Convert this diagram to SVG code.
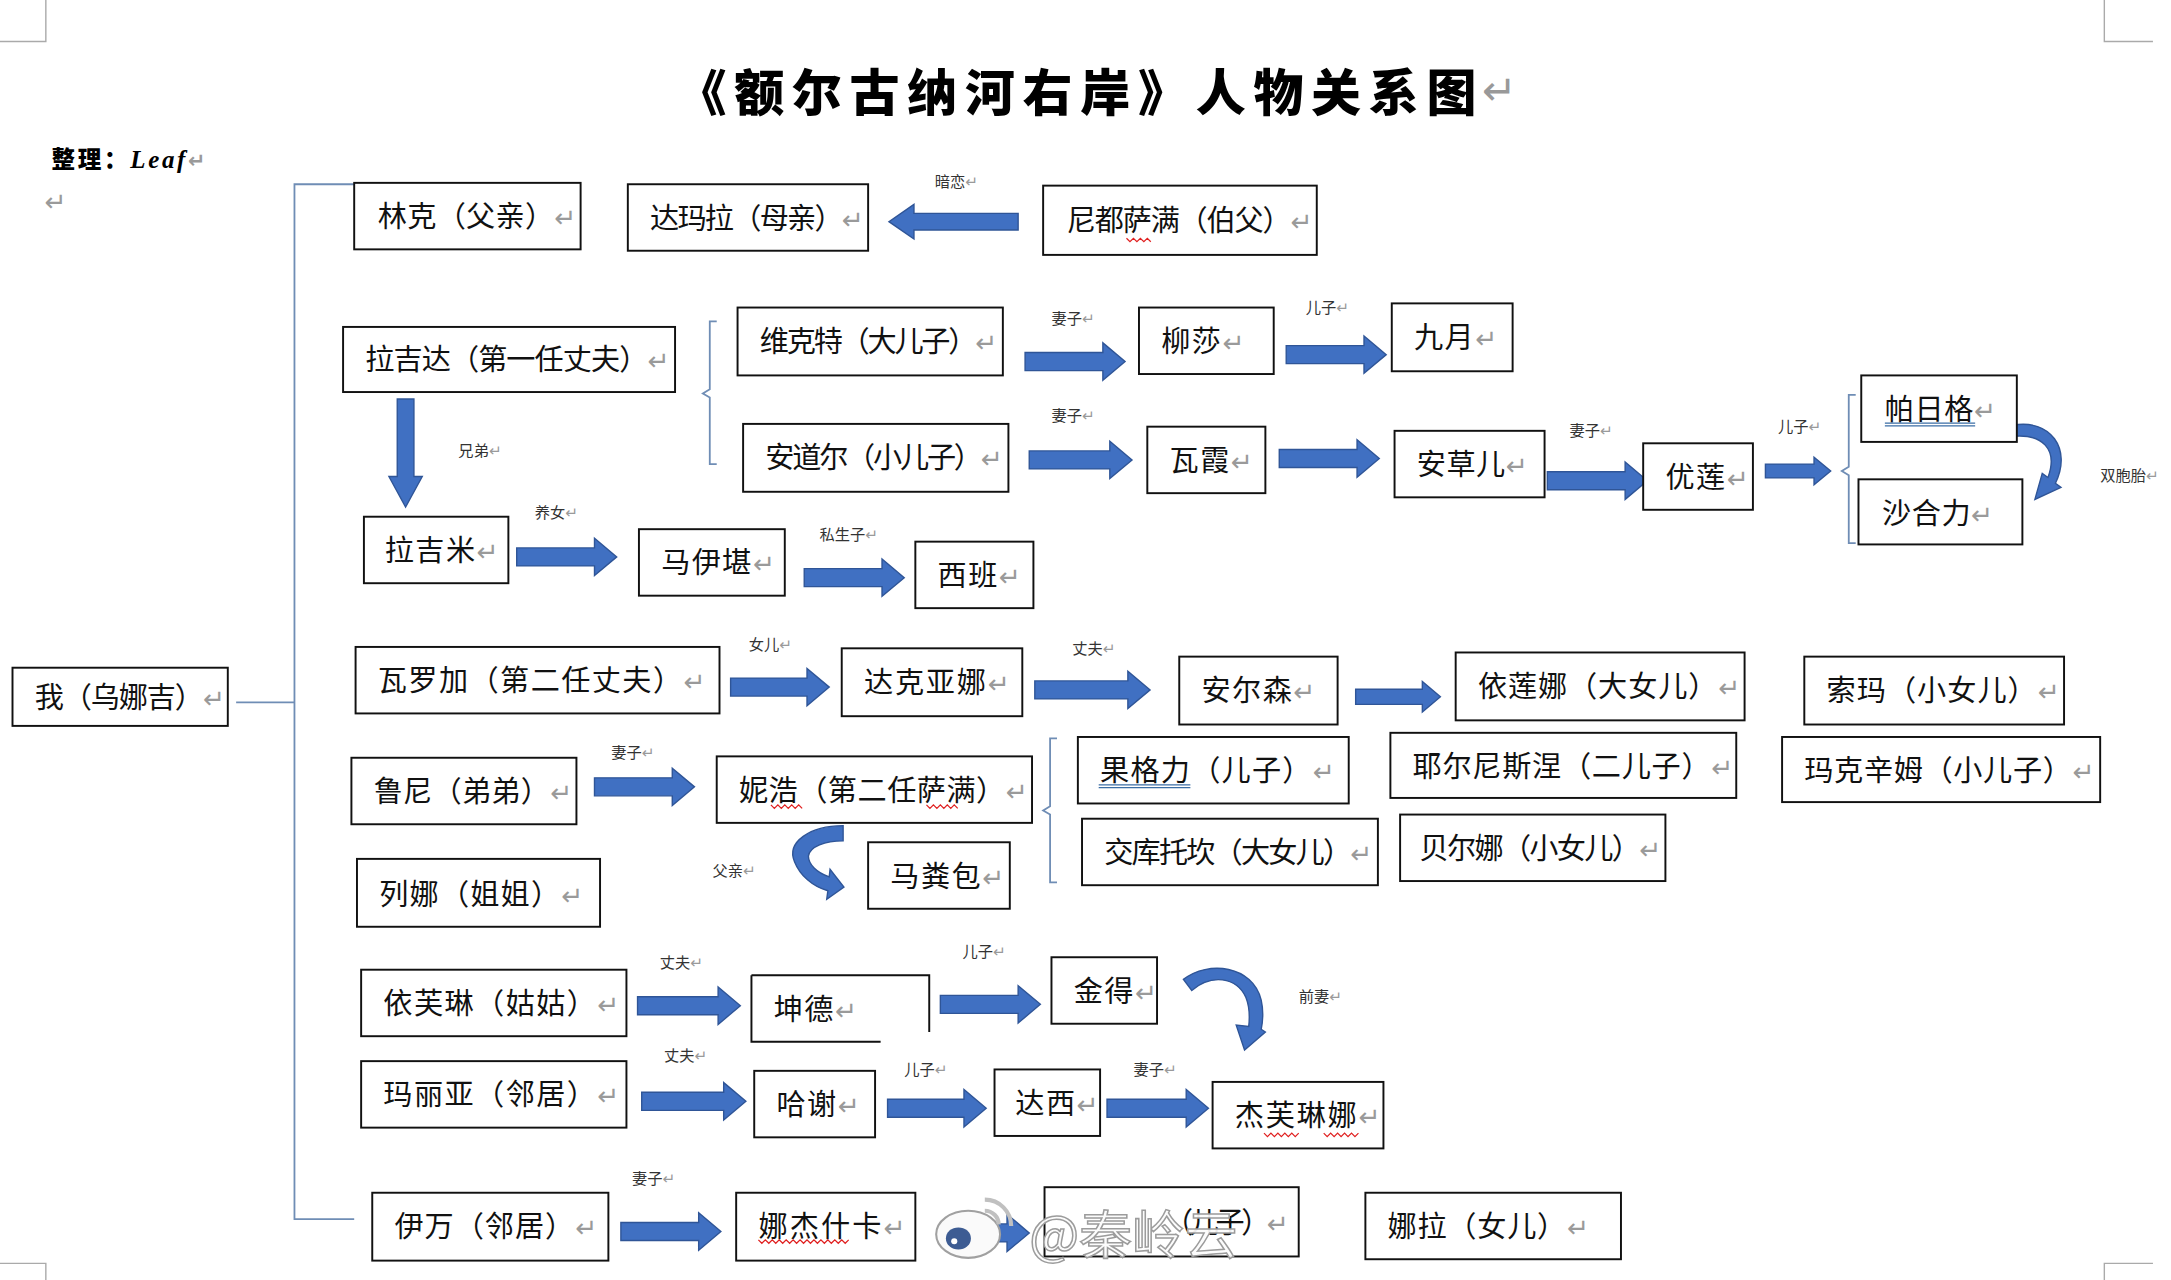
<svg xmlns="http://www.w3.org/2000/svg" width="2171" height="1280" viewBox="0 0 2171 1280">
<style>
.b{fill:#fff;stroke:#111;stroke-width:1.4}
.t{font-family:"Noto Sans CJK SC","Noto Sans CJK JP",sans-serif;font-size:21px;fill:#111}
.r{font-family:"DejaVu Sans",sans-serif;font-size:19px;fill:#9a9a9a}
.l{font-family:"Noto Sans CJK SC","Noto Sans CJK JP",sans-serif;font-size:11px;fill:#333}
.l .r{font-size:11px}
.a{fill:#4070c2;stroke:#2f5597;stroke-width:1}
.tr{fill:none;stroke:#6f8db5;stroke-width:1.3}
.sq{fill:none;stroke:#e02020;stroke-width:0.9}
.ul{fill:none;stroke:#3b6ea5;stroke-width:0.9}
.cm{fill:none;stroke:#aaa;stroke-width:1}
</style>
<rect width="2171" height="1280" fill="#fff"/>
<g transform="scale(1.389 1.3853)">
<g id="corners">
<path class="cm" d="M0,30 H33 V0 M1515,0 V30 H1550 M0,912 H33 V924 M1515,924 V912 H1550"/>
</g>
<g id="title">
<text x="487" y="80" textLength="576" lengthAdjust="spacing" style="font-family:'Noto Sans CJK SC','Noto Sans CJK JP',sans-serif;font-size:36px;font-weight:900;fill:#000">《额尔古纳河右岸》人物关系图</text>
<text x="1067" y="76" style="font-family:'DejaVu Sans',sans-serif;font-size:30px;fill:#999">↵</text>
<text x="37" y="121" textLength="111" lengthAdjust="spacing" style="font-family:'Noto Sans CJK SC',sans-serif;font-size:17px;font-weight:900;fill:#000">整理：<tspan style="font-family:'Liberation Serif',serif;font-style:italic;font-weight:bold;font-size:18px">Leaf</tspan><tspan class="r" style="font-size:15px">↵</tspan></text>
<text x="32" y="152" class="r">↵</text>
</g>
<g id="connectors">
<path class="tr" d="M255,133 H212 V880 H255 M170,507 H212"/>
<path class="tr" d="M516,232 H511 V281 L506,284 L511,287 V335 H516"/>
<path class="tr" d="M1336,285 H1331 V337 L1326,340 L1331,343 V392 H1336"/>
<path class="tr" d="M761,533 H756 V582 L751,585 L756,588 V637 H761"/>
<path class="a" d="M733,154 H658 V147.5 L640,160 L658,172.5 V166 H733 Z"/>
<path class="a" d="M738,254.5 H794 V247.5 L810,261 L794,274.5 V267.5 H738 Z"/>
<path class="a" d="M926,249.5 H982 V242.5 L998,256 L982,269.5 V262.5 H926 Z"/>
<path class="a" d="M741,325.5 H799 V318.5 L815,332 L799,345.5 V338.5 H741 Z"/>
<path class="a" d="M921,324.5 H977 V317.5 L993,331 L977,344.5 V337.5 H921 Z"/>
<path class="a" d="M1114,340.5 H1170 V333.5 L1186,347 L1170,360.5 V353.5 H1114 Z"/>
<path class="a" d="M1271,335 H1306 V330 L1318,340 L1306,350 V345 H1271 Z"/>
<path class="a" d="M286,288 V344 H280 L292,366 L304,344 H298 V288 Z"/>
<path class="a" d="M372,395.5 H428 V388.5 L444,402 L428,415.5 V408.5 H372 Z"/>
<path class="a" d="M579,410.5 H635 V403.5 L651,417 L635,430.5 V423.5 H579 Z"/>
<path class="a" d="M526,489.5 H581 V482.5 L597,496 L581,509.5 V502.5 H526 Z"/>
<path class="a" d="M745,491.5 H812 V484.5 L828,498 L812,511.5 V504.5 H745 Z"/>
<path class="a" d="M976,497.5 H1024 V492 L1037,503 L1024,514 V508.5 H976 Z"/>
<path class="a" d="M428,561.5 H484 V554.5 L500,568 L484,581.5 V574.5 H428 Z"/>
<path class="a" d="M459,719.5 H517 V712.5 L533,726 L517,739.5 V732.5 H459 Z"/>
<path class="a" d="M677,718.5 H733 V711.5 L749,725 L733,738.5 V731.5 H677 Z"/>
<path class="a" d="M462,788.5 H521 V781.5 L537,795 L521,808.5 V801.5 H462 Z"/>
<path class="a" d="M639,793.5 H694 V786.5 L710,800 L694,813.5 V806.5 H639 Z"/>
<path class="a" d="M797,793.5 H854 V786.5 L870,800 L854,813.5 V806.5 H797 Z"/>
<path class="a" d="M447,882.5 H503 V875.5 L519,889 L503,902.5 V895.5 H447 Z"/>
<path class="a" d="M680,883.5 H725 V876.5 L741,890 L725,903.5 V896.5 H680 Z"/>
<path class="a" d="M1449,307 C1476,302 1492,324 1479.8,348.8 L1483.8,351.8 L1465,360.5 L1470.3,341.7 L1474.4,344.7 C1482,324 1470,313 1449,315 Z"/>
<path class="a" d="M607,596 C583,596 566,608 572,622 C576,632 585,640 596,643 L595.2,649.2 L607.6,640.3 L597.6,627.5 L597,633 C588,630 582,624 582,618 C583,611 594,607 607,607 Z"/>
<path class="a" d="M852,707 C870,693 902,697 908,722 C910,731 909,738 908,743 L911,745 L896,758 L890,740 L899,741 C900,732 899,725 897,720 C890,705 872,703 858,715 Z"/>
</g>
<g id="labels">
<text class="l" x="673" y="135">暗恋<tspan class="r">↵</tspan></text>
<text class="l" x="757" y="234">妻子<tspan class="r">↵</tspan></text>
<text class="l" x="940" y="226">儿子<tspan class="r">↵</tspan></text>
<text class="l" x="757" y="304">妻子<tspan class="r">↵</tspan></text>
<text class="l" x="1130" y="315">妻子<tspan class="r">↵</tspan></text>
<text class="l" x="1280" y="312">儿子<tspan class="r">↵</tspan></text>
<text class="l" x="1512" y="347">双胞胎<tspan class="r">↵</tspan></text>
<text class="l" x="330" y="329">兄弟<tspan class="r">↵</tspan></text>
<text class="l" x="385" y="374">养女<tspan class="r">↵</tspan></text>
<text class="l" x="590" y="390">私生子<tspan class="r">↵</tspan></text>
<text class="l" x="539" y="469">女儿<tspan class="r">↵</tspan></text>
<text class="l" x="772" y="472">丈夫<tspan class="r">↵</tspan></text>
<text class="l" x="440" y="547">妻子<tspan class="r">↵</tspan></text>
<text class="l" x="513" y="632">父亲<tspan class="r">↵</tspan></text>
<text class="l" x="475" y="699">丈夫<tspan class="r">↵</tspan></text>
<text class="l" x="693" y="691">儿子<tspan class="r">↵</tspan></text>
<text class="l" x="935" y="723">前妻<tspan class="r">↵</tspan></text>
<text class="l" x="478" y="766">丈夫<tspan class="r">↵</tspan></text>
<text class="l" x="651" y="776">儿子<tspan class="r">↵</tspan></text>
<text class="l" x="816" y="776">妻子<tspan class="r">↵</tspan></text>
<text class="l" x="455" y="855">妻子<tspan class="r">↵</tspan></text>
</g>
<g id="n-linke"><rect class="b" x="255" y="132" width="163" height="48"/><text class="t" x="272" y="164" textLength="143" lengthAdjust="spacing">林克（父亲）<tspan class="r">↵</tspan></text></g>
<g id="n-damala"><rect class="b" x="452" y="133" width="173" height="48"/><text class="t" x="468" y="165" textLength="154" lengthAdjust="spacing">达玛拉（母亲）<tspan class="r">↵</tspan></text></g>
<g id="n-niduo"><rect class="b" x="751" y="134" width="197" height="50"/><text class="t" x="768" y="167" textLength="177" lengthAdjust="spacing">尼都萨满（伯父）<tspan class="r">↵</tspan></text><path class="sq" d="M811,172 l2.5,2.5 l2.5,-2.5 l2.5,2.5 l2.5,-2.5 l2.5,2.5 l2.5,-2.5 l2.5,2.5"/></g>
<g id="n-lajida"><rect class="b" x="247" y="236" width="239" height="47"/><text class="t" x="263" y="267" textLength="219" lengthAdjust="spacing">拉吉达（第一任丈夫）<tspan class="r">↵</tspan></text></g>
<g id="n-weikete"><rect class="b" x="531" y="222" width="191" height="49"/><text class="t" x="547" y="254" textLength="171" lengthAdjust="spacing">维克特（大儿子）<tspan class="r">↵</tspan></text></g>
<g id="n-andaoer"><rect class="b" x="535" y="306" width="191" height="49"/><text class="t" x="551" y="338" textLength="171" lengthAdjust="spacing">安道尔（小儿子）<tspan class="r">↵</tspan></text></g>
<g id="n-liusha"><rect class="b" x="820" y="222" width="97" height="48"/><text class="t" x="836" y="254" textLength="60" lengthAdjust="spacing">柳莎<tspan class="r">↵</tspan></text></g>
<g id="n-jiuyue"><rect class="b" x="1002" y="219" width="87" height="49"/><text class="t" x="1018" y="251" textLength="60" lengthAdjust="spacing">九月<tspan class="r">↵</tspan></text></g>
<g id="n-waxia"><rect class="b" x="826" y="308" width="85" height="48"/><text class="t" x="842" y="340" textLength="60" lengthAdjust="spacing">瓦霞<tspan class="r">↵</tspan></text></g>
<g id="n-ancaoer"><rect class="b" x="1004" y="311" width="108" height="48"/><text class="t" x="1020" y="343" textLength="80" lengthAdjust="spacing">安草儿<tspan class="r">↵</tspan></text></g>
<g id="n-youlian"><rect class="b" x="1183" y="320" width="79" height="48"/><text class="t" x="1199" y="352" textLength="60" lengthAdjust="spacing">优莲<tspan class="r">↵</tspan></text></g>
<g id="n-parige"><rect class="b" x="1340" y="271" width="112" height="48"/><text class="t" x="1357" y="303" textLength="80" lengthAdjust="spacing">帕日格<tspan class="r">↵</tspan></text><path class="ul" d="M1357,305.5 H1422 M1357,307.5 H1422"/></g>
<g id="n-shaheli"><rect class="b" x="1338" y="346" width="118" height="47"/><text class="t" x="1355" y="378" textLength="80" lengthAdjust="spacing">沙合力<tspan class="r">↵</tspan></text></g>
<g id="n-lajimi"><rect class="b" x="262" y="373" width="104" height="48"/><text class="t" x="277" y="405" textLength="82" lengthAdjust="spacing">拉吉米<tspan class="r">↵</tspan></text></g>
<g id="n-mayikan"><rect class="b" x="460" y="382" width="105" height="48"/><text class="t" x="476" y="414" textLength="82" lengthAdjust="spacing">马伊堪<tspan class="r">↵</tspan></text></g>
<g id="n-xiban"><rect class="b" x="659" y="391" width="85" height="48"/><text class="t" x="675" y="423" textLength="60" lengthAdjust="spacing">西班<tspan class="r">↵</tspan></text></g>
<g id="n-waluojia"><rect class="b" x="256" y="467" width="262" height="48"/><text class="t" x="272" y="499" textLength="236" lengthAdjust="spacing">瓦罗加（第二任丈夫）<tspan class="r">↵</tspan></text></g>
<g id="n-dakeyana"><rect class="b" x="606" y="468" width="130" height="49"/><text class="t" x="622" y="500" textLength="105" lengthAdjust="spacing">达克亚娜<tspan class="r">↵</tspan></text></g>
<g id="n-anersen"><rect class="b" x="849" y="474" width="114" height="49"/><text class="t" x="865" y="506" textLength="82" lengthAdjust="spacing">安尔森<tspan class="r">↵</tspan></text></g>
<g id="n-yilianna"><rect class="b" x="1048" y="471" width="208" height="49"/><text class="t" x="1064" y="503" textLength="189" lengthAdjust="spacing">依莲娜（大女儿）<tspan class="r">↵</tspan></text></g>
<g id="n-suoma"><rect class="b" x="1299" y="474" width="187" height="49"/><text class="t" x="1315" y="506" textLength="168" lengthAdjust="spacing">索玛（小女儿）<tspan class="r">↵</tspan></text></g>
<g id="n-luni"><rect class="b" x="253" y="547" width="162" height="48"/><text class="t" x="269" y="579" textLength="143" lengthAdjust="spacing">鲁尼（弟弟）<tspan class="r">↵</tspan></text></g>
<g id="n-nihao"><rect class="b" x="516" y="546" width="227" height="48"/><text class="t" x="532" y="578" textLength="208" lengthAdjust="spacing">妮浩（第二任萨满）<tspan class="r">↵</tspan></text><path class="sq" d="M555,581 l2.5,2.5 l2.5,-2.5 l2.5,2.5 l2.5,-2.5 l2.5,2.5 l2.5,-2.5 l2.5,2.5 l2.5,-2.5 l2.5,2.5 M667,581 l2.5,2.5 l2.5,-2.5 l2.5,2.5 l2.5,-2.5 l2.5,2.5 l2.5,-2.5 l2.5,2.5 l2.5,-2.5 l2.5,2.5"/></g>
<g id="n-guogeli"><rect class="b" x="776" y="532" width="195" height="48"/><text class="t" x="792" y="564" textLength="169" lengthAdjust="spacing">果格力（儿子）<tspan class="r">↵</tspan></text><path class="ul" d="M791,566.5 H857 M791,568.5 H857"/></g>
<g id="n-yeernisinie"><rect class="b" x="1001" y="529" width="249" height="47"/><text class="t" x="1017" y="561" textLength="231" lengthAdjust="spacing">耶尔尼斯涅（二儿子）<tspan class="r">↵</tspan></text></g>
<g id="n-makexinmu"><rect class="b" x="1283" y="532" width="229" height="47"/><text class="t" x="1299" y="564" textLength="209" lengthAdjust="spacing">玛克辛姆（小儿子）<tspan class="r">↵</tspan></text></g>
<g id="n-jiaokutuokan"><rect class="b" x="779" y="591" width="213" height="48"/><text class="t" x="795" y="623" textLength="193" lengthAdjust="spacing">交库托坎（大女儿）<tspan class="r">↵</tspan></text></g>
<g id="n-beierna"><rect class="b" x="1008" y="588" width="191" height="48"/><text class="t" x="1022" y="620" textLength="174" lengthAdjust="spacing">贝尔娜（小女儿）<tspan class="r">↵</tspan></text></g>
<g id="n-mafenbao"><rect class="b" x="625" y="608" width="102" height="48"/><text class="t" x="641" y="640" textLength="82" lengthAdjust="spacing">马粪包<tspan class="r">↵</tspan></text></g>
<g id="n-liena"><rect class="b" x="257" y="620" width="175" height="49"/><text class="t" x="273" y="653" textLength="147" lengthAdjust="spacing">列娜（姐姐）<tspan class="r">↵</tspan></text></g>
<g id="n-yifulin"><rect class="b" x="260" y="700" width="191" height="48"/><text class="t" x="276" y="732" textLength="170" lengthAdjust="spacing">依芙琳（姑姑）<tspan class="r">↵</tspan></text></g>
<g id="n-kunde"><rect x="541" y="704" width="128" height="48" fill="#fff"/><path fill="none" stroke="#111" stroke-width="1.4" d="M541,704 H669 V745 M541,704 V752 H634"/><text class="t" x="557" y="736" textLength="60" lengthAdjust="spacing">坤德<tspan class="r">↵</tspan></text></g>
<g id="n-jinde"><rect class="b" x="757" y="691" width="76" height="48"/><text class="t" x="773" y="723" textLength="60" lengthAdjust="spacing">金得<tspan class="r">↵</tspan></text></g>
<g id="n-maliya"><rect class="b" x="260" y="766" width="191" height="48"/><text class="t" x="276" y="798" textLength="170" lengthAdjust="spacing">玛丽亚（邻居）<tspan class="r">↵</tspan></text></g>
<g id="n-haxie"><rect class="b" x="543" y="773" width="87" height="48"/><text class="t" x="559" y="805" textLength="60" lengthAdjust="spacing">哈谢<tspan class="r">↵</tspan></text></g>
<g id="n-daxi"><rect class="b" x="716" y="772" width="76" height="48"/><text class="t" x="731" y="804" textLength="60" lengthAdjust="spacing">达西<tspan class="r">↵</tspan></text></g>
<g id="n-jiefulinna"><rect class="b" x="873" y="781" width="123" height="48"/><text class="t" x="889" y="813" textLength="105" lengthAdjust="spacing">杰芙琳娜<tspan class="r">↵</tspan></text><path class="sq" d="M910,818 l2.5,2.5 l2.5,-2.5 l2.5,2.5 l2.5,-2.5 l2.5,2.5 l2.5,-2.5 l2.5,2.5 l2.5,-2.5 l2.5,2.5 l2.5,-2.5 M953,818 l2.5,2.5 l2.5,-2.5 l2.5,2.5 l2.5,-2.5 l2.5,2.5 l2.5,-2.5 l2.5,2.5 l2.5,-2.5 l2.5,2.5 l2.5,-2.5"/></g>
<g id="n-yiwan"><rect class="b" x="268" y="861" width="170" height="49"/><text class="t" x="284" y="893" textLength="146" lengthAdjust="spacing">伊万（邻居）<tspan class="r">↵</tspan></text></g>
<g id="n-najieshika"><rect class="b" x="530" y="861" width="129" height="49"/><text class="t" x="546" y="893" textLength="106" lengthAdjust="spacing">娜杰什卡<tspan class="r">↵</tspan></text><path class="sq" d="M546,895 l2.5,2.5 l2.5,-2.5 l2.5,2.5 l2.5,-2.5 l2.5,2.5 l2.5,-2.5 l2.5,2.5 l2.5,-2.5 l2.5,2.5 l2.5,-2.5 l2.5,2.5 l2.5,-2.5 l2.5,2.5 l2.5,-2.5 l2.5,2.5 l2.5,-2.5 l2.5,2.5 l2.5,-2.5 l2.5,2.5 l2.5,-2.5 l2.5,2.5 l2.5,-2.5 l2.5,2.5 l2.5,-2.5 l2.5,2.5 l2.5,-2.5"/></g>
<g id="n-erzi"><rect class="b" x="752" y="857" width="183" height="50"/><text class="t" x="838" y="890" textLength="90" lengthAdjust="spacing">（儿子）<tspan class="r">↵</tspan></text></g>
<g id="n-nala"><rect class="b" x="983" y="861" width="184" height="48"/><text class="t" x="999" y="893" textLength="145" lengthAdjust="spacing">娜拉（女儿）<tspan class="r">↵</tspan></text></g>
<g id="n-wo"><rect class="b" x="9" y="482" width="155" height="42"/><text class="t" x="25" y="511" textLength="137" lengthAdjust="spacing">我（乌娜吉）<tspan class="r">↵</tspan></text></g>
<g id="watermark">
<ellipse cx="697" cy="891" rx="23" ry="17" fill="#fafafa" stroke="#a0a0a0" stroke-width="1.5"/>
<ellipse cx="690" cy="894" rx="9" ry="8" fill="#3d5c93"/>
<circle cx="687" cy="896" r="2.2" fill="#fff"/>
<path d="M709,866 A19,19 0 0 1 728,885 M709,874 A10,10 0 0 1 719,884" fill="none" stroke="#c0c0c0" stroke-width="3"/>
<text x="741" y="905" style="font-family:'Noto Sans CJK SC',sans-serif;font-size:38px;fill:#fcfcfc;fill-opacity:0.92;stroke:#9c9c9c;stroke-width:1.1">@秦岭云</text>
</g>
</g>
</svg>
